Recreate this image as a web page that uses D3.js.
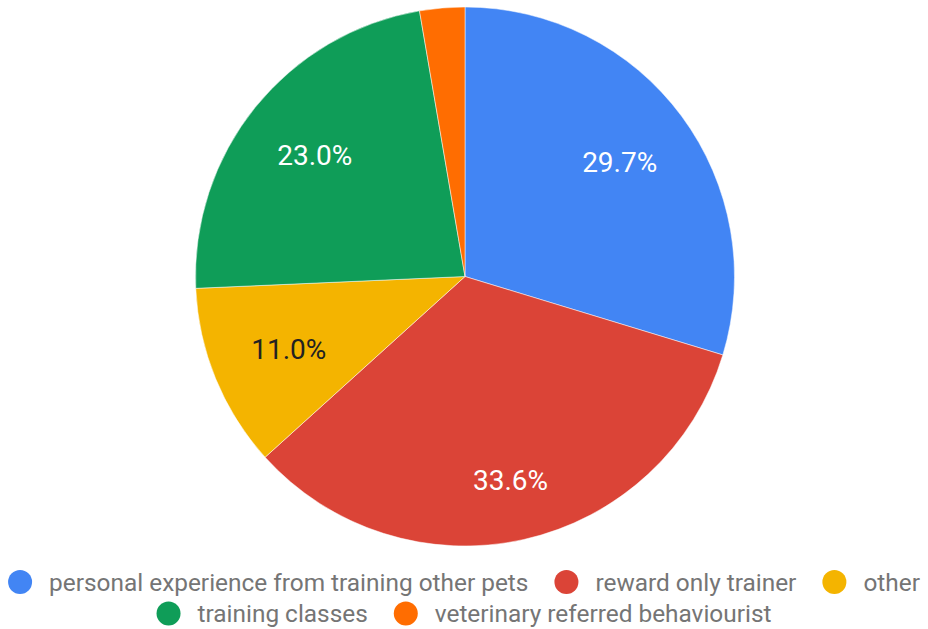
<!DOCTYPE html>
<html>
<head>
<meta charset="utf-8">
<script src="https://cdn.jsdelivr.net/npm/d3@7"></script>
<style>
  body { margin: 0; background: #fff; }
  svg { display: block; font-family: Roboto, sans-serif; }
</style>
</head>
<body>
<svg id="chart" width="928" height="629"></svg>
<script>
const categories = ['personal experience from training other pets', 'reward only trainer', 'other', 'training classes', 'veterinary referred behaviourist'];
const values = [29.7, 33.6, 11.0, 23.0, 2.7];
const colors = ['#4285f4', '#db4437', '#f4b400', '#0f9d58', '#ff6d01'];
const labelColors = ['#fff', '#fff', '#222', '#fff', '#fff'];
const legendRows = [[0, 1, 2], [3, 4]];

const svg = d3.select('#chart');
const cx = 465, cy = 276.5, radius = 269.5;

const data = categories.map((c, i) => ({ name: c, value: values[i], i }));
const pie = d3.pie().value(d => d.value).sort(null);
const arcs = pie(data);
const arc = d3.arc().innerRadius(0).outerRadius(radius);

const g = svg.append('g').attr('transform', `translate(${cx},${cy})`);

g.selectAll('path')
  .data(arcs)
  .join('path')
  .attr('d', arc)
  .attr('fill', d => colors[d.data.i])
  .attr('stroke', '#fff')
  .attr('stroke-width', 0.5);

// percentage labels: push each label out along its mid-angle until the
// outer corner of its box touches a fixed radius (like google charts)
const labelFont = 28;
const capH = labelFont * 0.71;
const outerR = radius * 0.85;

const labels = g.selectAll('text.pct')
  .data(arcs.filter(d => d.data.value > 5))
  .join('text')
  .attr('class', 'pct')
  .attr('text-anchor', 'middle')
  .attr('font-size', labelFont)
  .attr('fill', d => labelColors[d.data.i])
  .text(d => d.data.value.toFixed(1) + '%');

labels.each(function(d) {
  const w = this.getComputedTextLength();
  const a = (d.startAngle + d.endAngle) / 2;
  const ux = Math.sin(a), uy = -Math.cos(a);
  const ox = Math.sign(ux) * w / 2, oy = Math.sign(uy) * capH / 2;
  // |t*u + o| = outerR  -> t^2 + 2t(u.o) + |o|^2 - R^2 = 0
  const b = ux * ox + uy * oy;
  const c = ox * ox + oy * oy - outerR * outerR;
  const t = -b + Math.sqrt(b * b - c);
  d3.select(this)
    .attr('x', t * ux)
    .attr('y', t * uy + capH / 2);
});

// legend, two centred rows
const fontSize = 24.4;
const dotR = 12, dotGap = 17, itemGap = 26;
const rowY = [582, 613.5];

legendRows.forEach((row, r) => {
  const rowG = svg.append('g');
  let x = 0;
  row.forEach(i => {
    const item = rowG.append('g').attr('transform', `translate(${x},0)`);
    item.append('circle')
      .attr('cx', dotR)
      .attr('cy', 0)
      .attr('r', dotR)
      .attr('fill', colors[i]);
    const t = item.append('text')
      .attr('x', dotR * 2 + dotGap)
      .attr('dy', '0.35em')
      .attr('font-size', fontSize)
      .attr('fill', '#757575')
      .text(categories[i]);
    x += dotR * 2 + dotGap + t.node().getComputedTextLength() + itemGap;
  });
  const w = x - itemGap;
  rowG.attr('transform', `translate(${(928 - w) / 2},${rowY[r]})`);
});
</script>
</body>
</html>
